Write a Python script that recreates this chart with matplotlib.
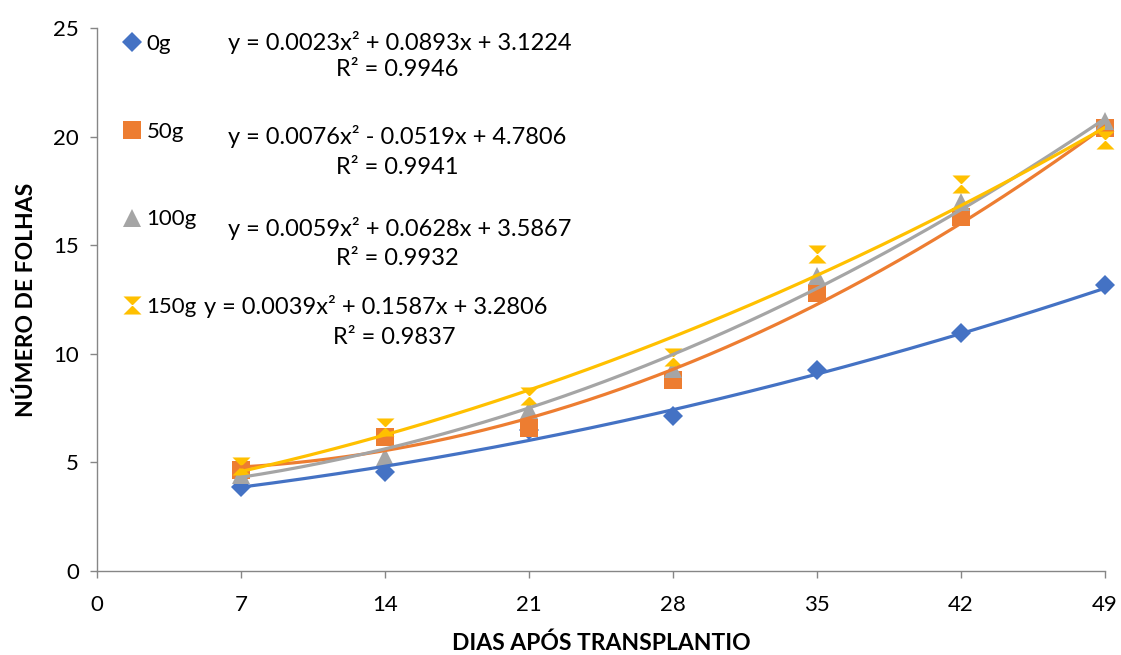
import numpy as np
import matplotlib
matplotlib.use("Agg")
import matplotlib.pyplot as plt
from matplotlib.path import Path

plt.rcParams['font.family'] = ['Lato', 'DejaVu Sans']

# Days after transplanting
days = [7, 14, 21, 28, 35, 42, 49]

# Number of leaves per dose
leaves_0g = [3.85, 4.55, 6.5, 7.15, 9.25, 10.95, 13.15]
leaves_50g = [4.65, 6.15, 6.6, 8.8, 12.8, 16.3, 20.4]
leaves_100g = [4.4, 5.25, 7.4, 9.3, 13.6, 17.0, 20.7]
leaves_150g = [4.85, 6.65, 8.05, 9.85, 14.6, 17.8, 19.85]

labels = ["0g", "50g", "100g", "150g"]

# Quadratic trendline coefficients (a, b, c) and R²
coef_0g = (0.0023, 0.0893, 3.1224)
coef_50g = (0.0076, -0.0519, 4.7806)
coef_100g = (0.0059, 0.0628, 3.5867)
coef_150g = (0.0039, 0.1587, 3.2806)
r2_values = [0.9946, 0.9941, 0.9932, 0.9837]

x_ticks = [0, 7, 14, 21, 28, 35, 42, 49]
y_ticks = [0, 5, 10, 15, 20, 25]

colors = ["#4472C4", "#ED7D31", "#A5A5A5", "#FFC000"]

hourglass = Path([(-1, 1), (1, 1), (-1, -1), (1, -1), (-1, 1)],
                 [Path.MOVETO, Path.LINETO, Path.LINETO, Path.LINETO, Path.CLOSEPOLY])
markers = ["D", "s", "^", hourglass]
msizes = [10, 13, 13, 13]

series = [leaves_0g, leaves_50g, leaves_100g, leaves_150g]
coefs = [coef_0g, coef_50g, coef_100g, coef_150g]

fig = plt.figure(figsize=(11.21, 6.55), dpi=100)
ax = fig.add_axes([97 / 1121, 1 - 571 / 655, (1105 - 97) / 1121, (571 - 28) / 655])

handles = []
for vals, col, mk, ms, lab in zip(series, colors, markers, msizes, labels):
    h, = ax.plot(days, vals, linestyle="none", marker=mk, markersize=ms,
                 color=col, markeredgewidth=0, label=lab, zorder=2, clip_on=False)
    handles.append(h)

xs = np.linspace(days[0], days[-1], 300)
for (a, b, c), col in zip(coefs, colors):
    ax.plot(xs, a * xs ** 2 + b * xs + c, color=col, lw=2.3, zorder=3,
            solid_capstyle="round")

ax.set_xlim(0, 49)
ax.set_ylim(0, 25)
ax.set_xticks(x_ticks)
ax.set_yticks(y_ticks)
ax.tick_params(axis="both", labelsize=16, color="#868686", length=5, width=1,
               labelcolor="black")
ax.tick_params(axis="x", pad=12)
ax.tick_params(axis="y", pad=8)
for side in ("top", "right"):
    ax.spines[side].set_visible(False)
for side in ("left", "bottom"):
    ax.spines[side].set_color("#868686")
    ax.spines[side].set_linewidth(1)

ax.set_xlabel("DIAS APÓS TRANSPLANTIO", fontsize=16.5, fontweight="bold", labelpad=13)
ax.set_ylabel("NÚMERO DE FOLHAS", fontsize=16.5, fontweight="bold", labelpad=12)

leg = fig.legend(handles=handles, labels=labels, loc="upper left",
                 bbox_to_anchor=(113 / 1121, 1 - 25 / 655), frameon=False,
                 fontsize=16, labelspacing=3.05, handlelength=0.9,
                 handletextpad=0.2, borderaxespad=0)

def fmt_eq(a, b, c):
    sb = "-" if b < 0 else "+"
    return f"y = {a:.4f}x² {sb} {abs(b):.4f}x + {c:.4f}"

eq_pos = [(228, 42), (228, 137), (228, 228), (204, 307)]
r2_pos = [(397, 70), (397, 167), (397, 259), (394, 338)]
for (a, b, c), r2, (ex, ey), (rx, ry) in zip(coefs, r2_values, eq_pos, r2_pos):
    fig.text(ex / 1121, 1 - ey / 655, fmt_eq(a, b, c), fontsize=17,
             ha="left", va="center")
    fig.text(rx / 1121, 1 - ry / 655, f"R² = {r2:.4f}", fontsize=17,
             ha="center", va="center")

fig.savefig("out.png", dpi=100, facecolor="white")
